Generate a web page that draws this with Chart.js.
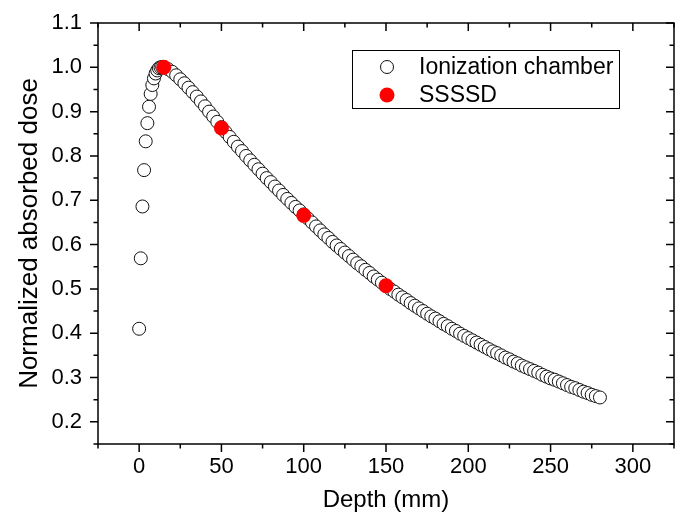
<!DOCTYPE html>
<html>
<head>
<meta charset="utf-8">
<script src="https://cdn.jsdelivr.net/npm/chart.js@4.4.0/dist/chart.umd.min.js"></script>
<style>
  html, body { margin: 0; padding: 0; background: #fff; }
  #wrap { width: 686px; height: 514px; }
</style>
</head>
<body>
<div id="wrap"><canvas id="plot"></canvas></div>
<script>
// profundidad (mm) y dosis de la camara de ionizacion
const depthIC = [
  0, 1, 2, 3, 4, 5, 6, 7, 8, 9, 10, 11, 12, 13, 14,
  15, 17.5, 20, 22.5, 25, 27.5, 30, 32.5, 35, 37.5, 40, 42.5, 45, 47.5,
  50, 52.5, 55, 57.5, 60, 62.5, 65, 67.5, 70, 72.5, 75, 77.5, 80, 82.5, 85, 87.5, 90, 92.5, 95, 97.5,
  100, 102.5, 105, 107.5, 110, 112.5, 115, 117.5, 120, 122.5, 125, 127.5, 130, 132.5, 135, 137.5, 140, 142.5, 145, 147.5,
  150, 152.5, 155, 157.5, 160, 162.5, 165, 167.5, 170, 172.5, 175, 177.5, 180, 182.5, 185, 187.5, 190, 192.5, 195, 197.5,
  200, 202.5, 205, 207.5, 210, 212.5, 215, 217.5, 220, 222.5, 225, 227.5, 230, 232.5, 235, 237.5, 240, 242.5, 245, 247.5,
  250, 252.5, 255, 257.5, 260, 262.5, 265, 267.5, 270, 272.5, 275, 277.5, 280
];
const doseIC = [
  0.410, 0.569, 0.686, 0.768, 0.833, 0.874, 0.911, 0.940, 0.960, 0.975, 0.986, 0.993, 0.998, 1.000, 1.001,
  1.000, 0.996, 0.990, 0.982, 0.973, 0.964, 0.954, 0.944, 0.934, 0.923, 0.912, 0.900, 0.889, 0.877,
  0.865, 0.854, 0.843, 0.832, 0.821, 0.811, 0.800, 0.790, 0.780, 0.770, 0.760, 0.750, 0.741, 0.731, 0.722, 0.712, 0.703, 0.694, 0.685, 0.677,
  0.668, 0.659, 0.650, 0.641, 0.632, 0.623, 0.615, 0.606, 0.598, 0.590, 0.582, 0.574, 0.566, 0.558, 0.551, 0.543, 0.536, 0.528, 0.521, 0.514,
  0.507, 0.500, 0.494, 0.487, 0.481, 0.475, 0.468, 0.462, 0.456, 0.450, 0.444, 0.438, 0.433, 0.427, 0.421, 0.416, 0.410, 0.405, 0.399, 0.394,
  0.389, 0.384, 0.379, 0.374, 0.369, 0.364, 0.359, 0.355, 0.350, 0.345, 0.341, 0.336, 0.332, 0.327, 0.323, 0.319, 0.315, 0.311, 0.306, 0.302,
  0.298, 0.295, 0.291, 0.287, 0.283, 0.279, 0.276, 0.272, 0.268, 0.265, 0.261, 0.258, 0.255
];
// detector SSSSD
const depthSSSSD = [15, 50, 100, 150];
const doseSSSSD = [1.000, 0.863, 0.666, 0.507];

const xTicks = [0, 50, 100, 150, 200, 250, 300];
const yTicks = [0.2, 0.3, 0.4, 0.5, 0.6, 0.7, 0.8, 0.9, 1.0, 1.1];

const FONT = "'Liberation Sans', Arial, sans-serif";

let toPoints = (xs, ys) => xs.map((x, i) => ({ x: x, y: ys[i] }));

// marco y marcas de los ejes (mayores y menores)
const framePlugin = {
  id: 'frame',
  afterDraw(chart) {
    const { ctx, chartArea: a, scales: { x, y } } = chart;
    ctx.save();
    ctx.strokeStyle = '#000';
    ctx.lineWidth = 1.5;
    ctx.strokeRect(a.left, a.top, a.right - a.left, a.bottom - a.top);
    ctx.beginPath();
    let xMinor = [xTicks[0] - 25].concat(xTicks.map(v => v + 25));
    let yMinor = [yTicks[0] - 0.05].concat(yTicks.slice(0, -1).map(v => v + 0.05));
    let drawX = (vals, len) => vals.forEach(v => {
      let px = x.getPixelForValue(v);
      ctx.moveTo(px, a.bottom); ctx.lineTo(px, a.bottom + len);
      ctx.moveTo(px, a.top); ctx.lineTo(px, a.top + len);
    });
    let drawY = (vals, len) => vals.forEach(v => {
      let py = y.getPixelForValue(v);
      ctx.moveTo(a.left, py); ctx.lineTo(a.left - len, py);
      ctx.moveTo(a.right, py); ctx.lineTo(a.right - len, py);
    });
    drawX(xTicks, 8); drawX(xMinor, 4.5);
    drawY(yTicks, 8); drawY(yMinor, 4.5);
    ctx.stroke();
    ctx.restore();
  }
};

// leyenda dentro del area del grafico
const legendPlugin = {
  id: 'boxLegend',
  afterDraw(chart) {
    const ctx = chart.ctx;
    const bx = 352, by = 50, bw = 267, bh = 58;
    ctx.save();
    ctx.fillStyle = '#fff';
    ctx.fillRect(bx, by, bw, bh);
    ctx.strokeStyle = '#000';
    ctx.lineWidth = 1;
    ctx.strokeRect(bx + 0.5, by + 0.5, bw, bh);
    ctx.font = '23px ' + FONT;
    ctx.textBaseline = 'middle';
    chart.data.datasets.forEach((ds, i) => {
      let cy = by + 17 + i * 28;
      ctx.beginPath();
      ctx.arc(bx + 35, cy, ds.pointRadius, 0, Math.PI * 2);
      ctx.fillStyle = ds.backgroundColor;
      ctx.fill();
      ctx.lineWidth = ds.borderWidth;
      ctx.strokeStyle = ds.borderColor;
      if (ds.borderWidth > 0) ctx.stroke();
      ctx.fillStyle = '#000';
      ctx.fillText(ds.label, bx + 67, cy + 1);
    });
    ctx.restore();
  }
};

let config = {
  type: 'scatter',
  data: {
    datasets: [
      {
        label: 'Ionization chamber',
        data: toPoints(depthIC, doseIC),
        pointRadius: 6.5,
        backgroundColor: '#fff',
        borderColor: '#111',
        borderWidth: 1,
        order: 1
      },
      {
        label: 'SSSSD',
        data: toPoints(depthSSSSD, doseSSSSD),
        pointRadius: 7.5,
        backgroundColor: '#ff0000',
        borderColor: '#ff0000',
        borderWidth: 0,
        order: 0
      }
    ]
  },
  options: {
    responsive: true,
    maintainAspectRatio: false,
    animation: false,
    devicePixelRatio: 1,
    layout: { padding: { top: 23, right: 12, left: 0, bottom: 0 } },
    plugins: {
      legend: { display: false },
      tooltip: { enabled: false }
    },
    scales: {
      x: {
        type: 'linear',
        min: -25,
        max: 325,
        afterBuildTicks: s => { s.ticks = xTicks.map(v => ({ value: v })); },
        afterFit: s => { s.height = 70; s.paddingLeft = 0; s.paddingRight = 0; },
        grid: { display: false, drawTicks: false },
        border: { display: false },
        ticks: {
          color: '#000',
          font: { family: FONT, size: 22 },
          padding: 10,
          maxRotation: 0,
          callback: v => String(v)
        },
        title: {
          display: true,
          text: 'Depth (mm)',
          color: '#000',
          font: { family: FONT, size: 24 },
          padding: { top: 0, bottom: -1 }
        }
      },
      y: {
        type: 'linear',
        min: 0.15,
        max: 1.1,
        afterBuildTicks: s => { s.ticks = yTicks.map(v => ({ value: v })); },
        afterFit: s => { s.width = 98; s.paddingTop = 0; s.paddingBottom = 0; },
        grid: { display: false, drawTicks: false },
        border: { display: false },
        ticks: {
          color: '#000',
          font: { family: FONT, size: 22 },
          padding: 16,
          callback: v => v.toFixed(1)
        },
        title: {
          display: true,
          text: 'Normalized absorbed dose',
          color: '#000',
          font: { family: FONT, size: 26 },
          padding: { top: 14, bottom: 0 }
        }
      }
    }
  },
  plugins: [framePlugin, legendPlugin]
};

let chart1 = new Chart(document.getElementById('plot'), config);
</script>
</body>
</html>
